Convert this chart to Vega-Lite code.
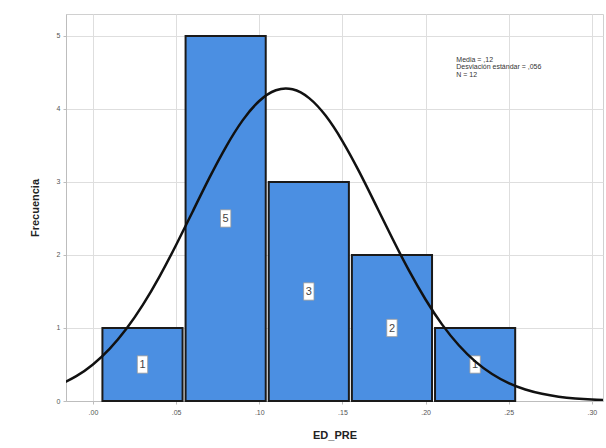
{
  "$schema": "https://vega.github.io/schema/vega-lite/v6.json",
  "width": 537,
  "height": 387,
  "autosize": "none",
  "padding": {"left": 66, "top": 14, "right": 3, "bottom": 47},
  "background": "white",
  "config": {
    "font": "Liberation Sans",
    "view": {"stroke": "#d0d0d0", "strokeWidth": 1},
    "axis": {
      "gridColor": "#dedede",
      "gridWidth": 1,
      "domainColor": "#bdbdbd",
      "tickColor": "#bdbdbd",
      "tickSize": 3,
      "labelFont": "Liberation Sans",
      "labelFontSize": 7,
      "labelColor": "#555555",
      "titleFont": "Liberation Sans",
      "titleFontSize": 11,
      "titleFontWeight": "bold",
      "titleColor": "#222222"
    }
  },
  "datasets": {
    "bins": [
      {"bin_start": 0.0048, "bin_end": 0.0548, "mid": 0.0298, "count": 1},
      {"bin_start": 0.0548, "bin_end": 0.1048, "mid": 0.0798, "count": 5},
      {"bin_start": 0.1048, "bin_end": 0.1548, "mid": 0.1298, "count": 3},
      {"bin_start": 0.1548, "bin_end": 0.2048, "mid": 0.1798, "count": 2},
      {"bin_start": 0.2048, "bin_end": 0.2548, "mid": 0.2298, "count": 1}
    ],
    "normal": [
      {"x": -0.02, "y": 0.224}, {"x": -0.01, "y": 0.341}, {"x": 0.0, "y": 0.501},
      {"x": 0.01, "y": 0.714}, {"x": 0.02, "y": 0.985}, {"x": 0.03, "y": 1.316},
      {"x": 0.04, "y": 1.704}, {"x": 0.05, "y": 2.137}, {"x": 0.06, "y": 2.596},
      {"x": 0.07, "y": 3.055}, {"x": 0.08, "y": 3.481}, {"x": 0.09, "y": 3.843},
      {"x": 0.10, "y": 4.109}, {"x": 0.11, "y": 4.256}, {"x": 0.12, "y": 4.269},
      {"x": 0.13, "y": 4.148}, {"x": 0.14, "y": 3.905}, {"x": 0.15, "y": 3.560},
      {"x": 0.16, "y": 3.144}, {"x": 0.17, "y": 2.689}, {"x": 0.18, "y": 2.228},
      {"x": 0.19, "y": 1.788}, {"x": 0.20, "y": 1.390}, {"x": 0.21, "y": 1.046},
      {"x": 0.22, "y": 0.763}, {"x": 0.23, "y": 0.539}, {"x": 0.24, "y": 0.369},
      {"x": 0.25, "y": 0.244}, {"x": 0.26, "y": 0.157}, {"x": 0.27, "y": 0.098},
      {"x": 0.28, "y": 0.059}, {"x": 0.29, "y": 0.034}, {"x": 0.30, "y": 0.019},
      {"x": 0.31, "y": 0.011}
    ]
  },
  "layer": [
    {
      "data": {"name": "bins"},
      "mark": {"type": "rect", "fill": "#4b8fe2", "stroke": "#1a1a1a", "strokeWidth": 2, "xOffset": 1.5, "x2Offset": -1.5},
      "encoding": {
        "x": {
          "field": "bin_start", "type": "quantitative",
          "scale": {"domain": [-0.0162, 0.3067], "nice": false, "zero": false},
          "axis": {
            "title": "ED_PRE",
            "values": [0, 0.05, 0.1, 0.15, 0.2, 0.25, 0.3],
            "labelExpr": "replace(format(datum.value, '.2f'), '0.', '.')",
            "grid": true,
            "titlePadding": 14,
            "labelPadding": 4
          }
        },
        "x2": {"field": "bin_end"},
        "y": {
          "field": "count", "type": "quantitative",
          "scale": {"domain": [0, 5.3], "nice": false},
          "axis": {
            "title": "Frecuencia",
            "values": [0, 1, 2, 3, 4, 5],
            "format": "d",
            "grid": true,
            "titlePadding": 16,
            "labelPadding": 3
          }
        },
        "y2": {"datum": 0}
      }
    },
    {
      "data": {"name": "bins"},
      "transform": [{"calculate": "datum.count / 2", "as": "half"}],
      "mark": {"type": "point", "shape": "M-0.6,-1H0.6V1H-0.6Z", "size": 300, "filled": true, "fill": "white", "stroke": "#9a9a9a", "strokeWidth": 0.8, "opacity": 1},
      "encoding": {
        "x": {"field": "mid", "type": "quantitative"},
        "y": {"field": "half", "type": "quantitative"}
      }
    },
    {
      "data": {"name": "bins"},
      "transform": [{"calculate": "datum.count / 2", "as": "half"}],
      "mark": {"type": "text", "fontSize": 11, "color": "#444444", "baseline": "middle", "align": "center", "dy": 1},
      "encoding": {
        "x": {"field": "mid", "type": "quantitative"},
        "y": {"field": "half", "type": "quantitative"},
        "text": {"field": "count", "type": "quantitative"}
      }
    },
    {
      "data": {"name": "normal"},
      "mark": {"type": "line", "color": "#111111", "strokeWidth": 2.5, "interpolate": "natural", "clip": true},
      "encoding": {
        "x": {"field": "x", "type": "quantitative"},
        "y": {"field": "y", "type": "quantitative"}
      }
    },
    {
      "data": {"values": [{"label": "Media = ,12\nDesviación estándar = ,056\nN = 12"}]},
      "mark": {"type": "text", "align": "left", "baseline": "top", "fontSize": 7, "color": "#333333", "lineBreak": "\n", "lineHeight": 7.5},
      "encoding": {
        "x": {"datum": 0.2185},
        "y": {"datum": 4.73},
        "text": {"field": "label", "type": "nominal"}
      }
    }
  ]
}
